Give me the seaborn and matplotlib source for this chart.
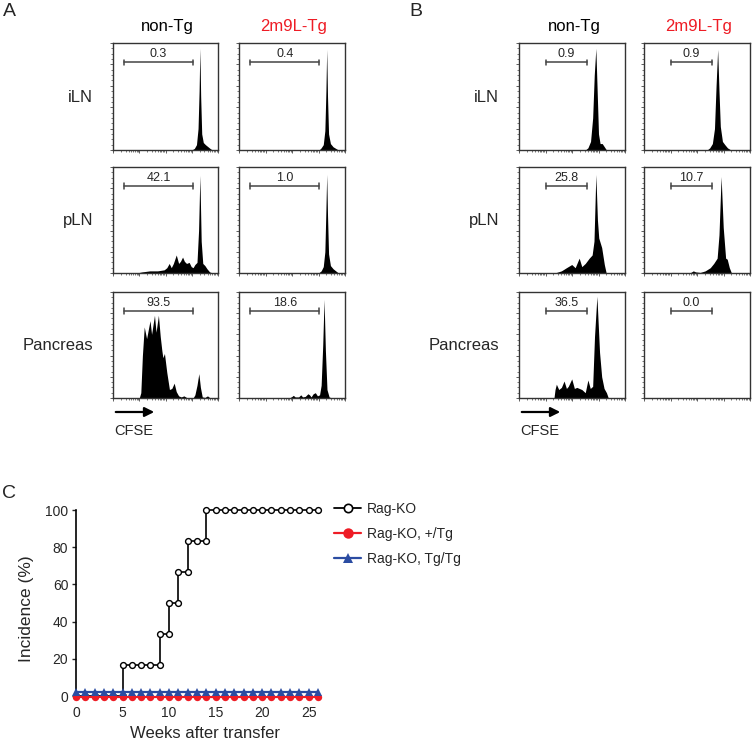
import matplotlib
matplotlib.use("Agg")
import numpy as np
import matplotlib.pyplot as plt
import seaborn as sns
from matplotlib.lines import Line2D
from matplotlib.patches import FancyArrowPatch
from matplotlib.ticker import MultipleLocator, LogLocator, NullFormatter
from matplotlib.transforms import ScaledTranslation

W, H = 752, 743

# ---------------- panel A / B : CFSE histograms ----------------
# x = CFSE (log10 units, 0..4 decades), y = events (% of panel max)
organs = ["iLN", "pLN", "Pancreas"]
groups = ["non-Tg", "2m9L-Tg"]

a_iln_non_x = [3.00, 3.10, 3.18, 3.24, 3.28, 3.31, 3.34, 3.38, 3.44, 3.52, 3.62, 3.72, 3.80]
a_iln_non_y = [0, 1.5, 5, 20, 55, 95, 50, 15, 7, 5, 3, 1, 0]
a_iln_tg_x = [3.02, 3.10, 3.18, 3.24, 3.28, 3.31, 3.34, 3.38, 3.45, 3.55, 3.65, 3.75]
a_iln_tg_y = [0, 2, 5, 18, 55, 94, 50, 15, 6, 3, 1.5, 0]

a_pln_non_x = [0.90, 1.10, 1.40, 1.70, 1.95, 2.05, 2.14, 2.22, 2.30, 2.41, 2.50, 2.57, 2.65,
               2.72, 2.80, 2.90, 2.98, 3.05, 3.12, 3.20, 3.26, 3.31, 3.36, 3.42, 3.50, 3.58,
               3.68, 3.80]
a_pln_non_y = [0, 1, 2, 2, 3, 5, 9, 5, 9, 17, 9, 11, 15, 11, 9, 10, 6, 5, 8, 10, 40, 92, 30,
               9, 7, 4, 1, 0]
a_pln_tg_x = [3.00, 3.10, 3.18, 3.24, 3.28, 3.31, 3.34, 3.38, 3.45, 3.55, 3.65, 3.75]
a_pln_tg_y = [0, 2, 6, 20, 60, 93, 55, 18, 7, 4, 2, 0]

a_pan_non_x = [1.00, 1.06, 1.12, 1.19, 1.28, 1.41, 1.47, 1.58, 1.64, 1.73, 1.80, 1.86, 1.90,
               1.96, 2.05, 2.15, 2.24, 2.33, 2.41, 2.50, 2.60, 2.70, 2.80, 3.05, 3.12, 3.20,
               3.27, 3.33, 3.40, 3.50, 3.60, 3.70]
a_pan_non_y = [0, 5, 40, 67, 56, 73, 60, 78, 62, 78, 58, 45, 38, 42, 24, 8, 9, 14, 6, 2, 1,
               2, 0.5, 0, 3, 12, 23, 10, 1, 0.5, 2, 0]
a_pan_tg_x = [1.90, 2.00, 2.05, 2.12, 2.25, 2.33, 2.40, 2.50, 2.60, 2.66, 2.72, 2.80, 2.88,
              2.96, 3.04, 3.10, 3.16, 3.21, 3.26, 3.32, 3.40, 3.50]
a_pan_tg_y = [0, 1.5, 2.5, 1, 1, 3, 1, 1.5, 4, 3, 1, 4, 5, 2, 3, 12, 50, 93, 45, 8, 1, 0]

b_iln_non_x = [2.50, 2.60, 2.70, 2.78, 2.84, 2.90, 2.95, 3.00, 3.06, 3.14, 3.22, 3.30]
b_iln_non_y = [0, 2, 8, 30, 70, 95, 55, 15, 6, 6, 3, 0]
b_iln_tg_x = [2.38, 2.48, 2.58, 2.66, 2.72, 2.78, 2.83, 2.88, 2.96, 3.05, 3.15, 3.28]
b_iln_tg_y = [0, 2, 6, 20, 60, 94, 55, 22, 8, 5, 2, 0]

b_pln_non_x = [1.35, 1.60, 1.79, 1.99, 2.12, 2.27, 2.37, 2.50, 2.65, 2.76, 2.83, 2.90, 2.96,
               3.01, 3.12, 3.22, 3.29]
b_pln_non_y = [0, 2, 5, 8, 5, 14, 6, 9, 14, 17, 30, 93, 50, 33, 24, 8, 0]
b_pln_tg_x = [1.73, 1.86, 1.95, 2.12, 2.31, 2.50, 2.63, 2.76, 2.83, 2.91, 2.99, 3.08, 3.14,
              3.22, 3.30]
b_pln_tg_y = [0, 2, 1, 0.5, 2, 5, 9, 14, 36, 91, 43, 14, 13, 5, 0]

b_pan_non_x = [1.32, 1.36, 1.41, 1.50, 1.60, 1.70, 1.79, 1.86, 1.99, 2.09, 2.18, 2.37, 2.50,
               2.60, 2.69, 2.78, 2.85, 2.94, 3.04, 3.12, 3.21, 3.30, 3.37]
b_pan_non_y = [0, 8, 13, 8, 10, 16, 9, 11, 18, 9, 10, 8, 5, 17, 9, 11, 58, 96, 43, 20, 9, 5, 0]
b_pan_tg_x = []
b_pan_tg_y = []

# gated % of divided cells (rows = organs, cols = groups)
a_gate_pct = [[0.3, 0.4], [42.1, 1.0], [93.5, 18.6]]
b_gate_pct = [[0.9, 0.9], [25.8, 10.7], [36.5, 0.0]]
a_gate_range = (0.43, 3.03)
b_gate_range = (1.00, 2.57)

# ---------------- panel C : diabetes incidence ----------------
ko_weeks = [0, 1, 2, 3, 4, 5, 5, 6, 7, 8, 9, 9, 10, 10, 11, 11, 12, 12, 13, 14, 14,
            15, 16, 17, 18, 19, 20, 21, 22, 23, 24, 25, 26]
ko_incidence = [0, 0, 0, 0, 0, 0, 16.7, 16.7, 16.7, 16.7, 16.7, 33.3, 33.3, 50, 50, 66.7,
                66.7, 83.3, 83.3, 83.3, 100, 100, 100, 100, 100, 100, 100, 100, 100, 100,
                100, 100, 100]
tg_weeks = [0, 1, 2, 3, 4, 5, 6, 7, 8, 9, 10, 11, 12, 13, 14, 15, 16, 17, 18, 19, 20, 21,
            22, 23, 24, 25, 26]
het_incidence = [0, 0, 0, 0, 0, 0, 0, 0, 0, 0, 0, 0, 0, 0, 0, 0, 0, 0, 0, 0, 0, 0, 0, 0,
                 0, 0, 0]
hom_incidence = [0, 0, 0, 0, 0, 0, 0, 0, 0, 0, 0, 0, 0, 0, 0, 0, 0, 0, 0, 0, 0, 0, 0, 0,
                 0, 0, 0]

RED = "#ee1c25"
BLUE = "#2b4ca2"
SPINE = "#333333"

sns.set_style("ticks")
plt.rcParams["font.family"] = ["Liberation Sans", "DejaVu Sans"]

fig = plt.figure(figsize=(W / 100, H / 100), dpi=100)


def px_axes(x0, y0, x1, y1):
    return fig.add_axes([x0 / W, 1 - y1 / H, (x1 - x0) / W, (y1 - y0) / H])


def ftext(x, y, s, **kw):
    fig.text(x / W, 1 - y / H, s, **kw)


def draw_hist(ax, xs, ys, pct, gate):
    ax.set_xscale("log")
    ax.set_xlim(1, 1e4)
    ax.set_ylim(0, 100)
    if len(xs):
        ax.fill_between(10 ** np.array(xs), ys, 0, color="black", lw=0)
    g0, g1 = gate
    ax.plot([10 ** g0, 10 ** g1], [82, 82], color="#444444", lw=1.1)
    for g in gate:
        ax.plot([10 ** g, 10 ** g], [79.5, 84.5], color="#444444", lw=1.1)
    ax.text(10 ** ((g0 + g1) / 2), 90, f"{pct:.1f}", ha="center", va="center", fontsize=9)
    ax.xaxis.set_major_locator(LogLocator(base=10, numticks=10))
    ax.xaxis.set_minor_locator(LogLocator(base=10, subs=np.arange(2, 10), numticks=10))
    ax.xaxis.set_minor_formatter(NullFormatter())
    ax.yaxis.set_major_locator(MultipleLocator(20))
    ax.yaxis.set_minor_locator(MultipleLocator(5))
    ax.tick_params(which="major", length=2.5, width=0.6, color="#444444",
                   labelbottom=False, labelleft=False, top=False, right=False)
    ax.tick_params(which="minor", length=1.3, width=0.5, color="#444444",
                   top=False, right=False)
    for sp in ax.spines.values():
        sp.set_visible(True)
        sp.set_linewidth(1.0)
        sp.set_color(SPINE)


hist_a = [[(a_iln_non_x, a_iln_non_y), (a_iln_tg_x, a_iln_tg_y)],
          [(a_pln_non_x, a_pln_non_y), (a_pln_tg_x, a_pln_tg_y)],
          [(a_pan_non_x, a_pan_non_y), (a_pan_tg_x, a_pan_tg_y)]]
hist_b = [[(b_iln_non_x, b_iln_non_y), (b_iln_tg_x, b_iln_tg_y)],
          [(b_pln_non_x, b_pln_non_y), (b_pln_tg_x, b_pln_tg_y)],
          [(b_pan_non_x, b_pan_non_y), (b_pan_tg_x, b_pan_tg_y)]]

row_px = [(43, 150), (167, 273), (292, 398)]
panels = [
    ("A", 9, hist_a, a_gate_pct, a_gate_range, [(113, 218), (239, 345)], 93),
    ("B", 416, hist_b, b_gate_pct, b_gate_range, [(519, 625), (644, 750)], 499),
]

for letter, lx, hists, pcts, gate, cols, label_x in panels:
    ftext(lx, 12, letter, fontsize=14, ha="center", va="center")
    for j, (c0, c1) in enumerate(cols):
        ftext((c0 + c1) / 2 + 2, 27, groups[j], fontsize=12, ha="center", va="center",
              color="black" if j == 0 else RED)
    for i, (r0, r1) in enumerate(row_px):
        ftext(label_x, (r0 + r1) / 2 + 1, organs[i], fontsize=12, ha="right", va="center")
        for j, (c0, c1) in enumerate(cols):
            ax = px_axes(c0, r0, c1, r1)
            xs, ys = hists[i][j]
            draw_hist(ax, xs, ys, pcts[i][j], gate)
    x0 = cols[0][0]
    arrow = FancyArrowPatch((x0 / W, 1 - 412 / H), ((x0 + 44) / W, 1 - 412 / H),
                            transform=fig.transFigure, arrowstyle="-|>",
                            mutation_scale=14, lw=1.6, color="black")
    fig.add_artist(arrow)
    ftext(x0 + 1, 431, "CFSE", fontsize=10.5, ha="left", va="center")

# ---------------- panel C ----------------
ftext(9, 494, "C", fontsize=14, ha="center", va="center")
ax_c = px_axes(76, 510, 318, 696)

sns.lineplot(x=ko_weeks, y=ko_incidence, ax=ax_c, estimator=None, sort=False,
             color="black", lw=1.2, marker="o", markersize=4.2,
             markerfacecolor="white", markeredgecolor="black", markeredgewidth=1.0,
             clip_on=False, zorder=2)

off_red = ax_c.transData + ScaledTranslation(0, -0.8 / 72, fig.dpi_scale_trans)
off_blue = ax_c.transData + ScaledTranslation(0, 2.6 / 72, fig.dpi_scale_trans)
ax_c.plot(tg_weeks, het_incidence, color=RED, lw=1.6, marker="o", markersize=5.3,
          markeredgewidth=0, clip_on=False, transform=off_red, zorder=3)
ax_c.plot(tg_weeks, hom_incidence, color=BLUE, lw=1.6, marker="^", markersize=5.8,
          markeredgewidth=0, clip_on=False, transform=off_blue, zorder=4)

ax_c.set_xlim(0, 26)
ax_c.set_ylim(0, 100)
ax_c.set_xticks([0, 5, 10, 15, 20, 25])
ax_c.set_yticks([0, 20, 40, 60, 80, 100])
sns.despine(ax=ax_c, bottom=True)
ax_c.spines["left"].set_linewidth(1.2)
ax_c.spines["left"].set_color("black")
ax_c.tick_params(axis="x", length=0, pad=7, labelsize=10)
ax_c.tick_params(axis="y", length=3, width=1, pad=2.5, labelsize=10)
ax_c.set_xlabel("Weeks after transfer", fontsize=12)
ax_c.set_ylabel("Incidence (%)", fontsize=12.5)
ax_c.xaxis.set_label_coords(0.533, -0.16)
ax_c.yaxis.set_label_coords(-0.175, 0.47)

handles = [
    Line2D([], [], color="black", lw=1.3, marker="o", markersize=6, markerfacecolor="white",
           markeredgecolor="black", markeredgewidth=1.2),
    Line2D([], [], color=RED, lw=1.6, marker="o", markersize=7.5, markeredgewidth=0),
    Line2D([], [], color=BLUE, lw=1.6, marker="^", markersize=7.5, markeredgewidth=0),
]
labels = ["Rag-KO", "Rag-KO, +/Tg", "Rag-KO, Tg/Tg"]
fig.legend(handles, labels, loc="upper left", bbox_to_anchor=(334 / W, 1 - 502 / H),
           frameon=False, fontsize=10, borderpad=0, borderaxespad=0, handlelength=1.95,
           handletextpad=0.45, labelspacing=0.78)

fig.savefig("out.png", dpi=100)
